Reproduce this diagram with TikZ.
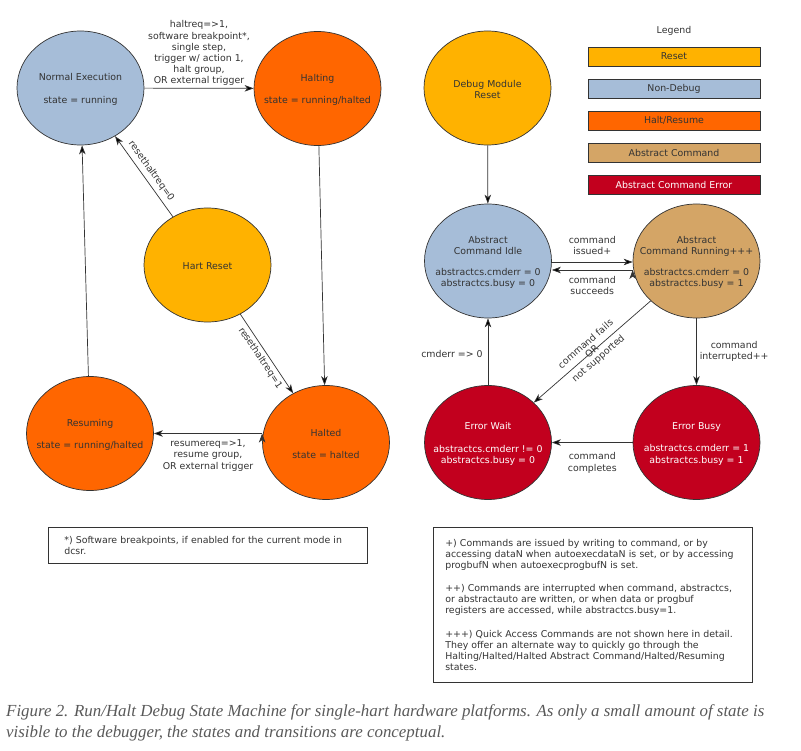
\documentclass[tikz,border=0pt]{standalone}
\usepackage{fontspec}
\setmainfont{DejaVu Sans}
\newfontfamily\capfont{Liberation Serif}
\usetikzlibrary{shapes.geometric,positioning,arrows.meta}

\definecolor{resetfill}{HTML}{FFB200}
\definecolor{nondebugfill}{HTML}{A6BDD8}
\definecolor{haltfill}{HTML}{FF6600}
\definecolor{abstractfill}{HTML}{D4A566}
\definecolor{errorfill}{HTML}{C2001E}
\definecolor{inkgray}{HTML}{333333}

\begin{document}
\begin{tikzpicture}[
  x=1pt, y=-1pt,
  >={Stealth[length=9pt,width=6.5pt,inset=2.5pt]},
  every node/.style={font=\fontsize{9.4}{11.2}\selectfont, text=inkgray},
  state/.style={ellipse, draw=inkgray, line width=0.7pt,
    minimum width=127pt, minimum height=114pt, inner sep=0pt},
  statetext/.style={align=center, yshift=-1.5pt},
  errtext/.style={align=center, text=white, yshift=-1.5pt},
  legendbox/.style={draw=inkgray, line width=0.7pt, minimum width=172pt,
    minimum height=19pt, inner sep=0pt},
  notebox/.style={draw=inkgray, line width=0.6pt, align=left, anchor=north west,
    font=\fontsize{9.4}{10.9}\selectfont},
  trans/.style={->, draw=inkgray, line width=0.7pt},
  translabel/.style={align=center, inner sep=3pt}
]
  \path[use as bounding box] (0,0) rectangle (801,751);

  % run/halt states
  \node[state, fill=nondebugfill,
    label={[statetext]center:{Normal Execution\\[11pt]state = running}}] (normal) at (80.5,88) {};
  \node[state, fill=haltfill,
    label={[statetext]center:{Halting\\[11pt]state = running/halted}}] (halting) at (317.5,88.5) {};
  \node[state, fill=resetfill,
    label={[statetext]center:{Hart Reset}}] (hartreset) at (207.5,265) {};
  \node[state, fill=haltfill,
    label={[statetext]center:{Resuming\\[11pt]state = running/halted}}] (resuming) at (90,433.5) {};
  \node[state, fill=haltfill,
    label={[statetext]center:{Halted\\[11pt]state = halted}}] (halted) at (326,442.5) {};

  \path[trans]
    (normal) edge node[translabel, above, inner sep=2pt] {haltreq=>1,\\software breakpoint*,\\single step,\\trigger w/ action 1,\\halt group,\\OR external trigger} (halting)
    (halting) edge (halted)
    (hartreset) edge node[sloped, above, inner sep=4pt] {resethaltreq=0} (normal)
    (hartreset) edge node[sloped, below, inner sep=3pt] {resethaltreq=1} (halted)
    (halted.west |- resuming) edge node[translabel, below, inner sep=6pt] {resumereq=>1,\\resume group,\\OR external trigger} (resuming.east)
    (resuming) edge (normal);

  % abstract command states
  \node[state, fill=resetfill,
    label={[statetext]center:{Debug Module\\Reset}}] (dmreset) at (487.5,88) {};
  \node[state, fill=nondebugfill,
    label={[statetext]center:{Abstract\\Command Idle\\[10pt]abstractcs.cmderr = 0\\abstractcs.busy = 0}}] (cmdidle) at (488,261) {};
  \node[state, fill=abstractfill,
    label={[statetext]center:{Abstract\\Command Running+++\\[10pt]abstractcs.cmderr = 0\\abstractcs.busy = 1}}] (cmdrunning) at (696.5,261) {};
  \node[state, fill=errorfill,
    label={[errtext]center:{Error Wait\\[11pt]abstractcs.cmderr != 0\\abstractcs.busy = 0}}] (errwait) at (488,442.5) {};
  \node[state, fill=errorfill,
    label={[errtext]center:{Error Busy\\[11pt]abstractcs.cmderr = 1\\abstractcs.busy = 1}}] (errbusy) at (696.5,442.5) {};

  \path[trans]
    (dmreset) edge (cmdidle)
    ([yshift=-1pt]cmdidle.east) edge node[translabel, above, inner sep=7pt] {command\\issued+} ([yshift=-1pt]cmdrunning.west)
    ([yshift=-9pt]cmdrunning.west) edge node[translabel, below, inner sep=6pt] {command\\succeeds} ([yshift=-9pt]cmdidle.east)
    (cmdrunning) edge node[translabel, sloped, inner sep=0pt, font=\fontsize{9.4}{9.6}\selectfont] {command fails\\OR\\not supported} (errwait)
    (cmdrunning) edge node[translabel, right] {command\\interrupted++} (errbusy)
    (errbusy) edge node[translabel, below, inner sep=10pt] {command\\completes} (errwait)
    (errwait) edge node[translabel, left, inner sep=5pt, yshift=-2pt] {cmderr => 0} (cmdidle);

  % legend
  \node (legend) at (674,31) {Legend};
  \node[legendbox, fill=resetfill] (lgreset) at (674,56.5) {Reset};
  \node[legendbox, fill=nondebugfill, below=12.4pt of lgreset] (lgnondebug) {Non-Debug};
  \node[legendbox, fill=haltfill, below=12.4pt of lgnondebug] (lghalt) {Halt/Resume};
  \node[legendbox, fill=abstractfill, below=12.4pt of lghalt] (lgabstract) {Abstract Command};
  \node[legendbox, fill=errorfill, text=white, below=12.4pt of lgabstract] (lgerror) {Abstract Command Error};

  % footnotes
  \node[notebox, text width=287pt, inner xsep=16pt, minimum height=36pt] (swnote) at (48,527)
    {*) Software breakpoints, if enabled for the current mode in\\dcsr.};
  \node[notebox, text width=295pt, inner xsep=12pt, minimum height=155pt] (cmdnote) at (433,527)
    {+) Commands are issued by writing to command, or by\\
     accessing dataN when autoexecdataN is set, or by accessing\\
     progbufN when autoexecprogbufN is set.\\[13pt]
     ++) Commands are interrupted when command, abstractcs,\\
     or abstractauto are written, or when data or progbuf\\
     registers are accessed, while abstractcs.busy=1.\\[13pt]
     +++) Quick Access Commands are not shown here in detail.\\
     They offer an alternate way to quickly go through the\\
     Halting/Halted/Halted Abstract Command/Halted/Resuming\\
     states.};

  % caption
  \node[anchor=north west, align=left, inner sep=0pt, text=black!65,
    font=\capfont\itshape\fontsize{16.9}{21.5}\selectfont] (caption) at (6,704)
    {Figure 2. Run/Halt Debug State Machine for single-hart hardware platforms. As only a small amount of state is\\
     visible to the debugger, the states and transitions are conceptual.};
\end{tikzpicture}
\end{document}
